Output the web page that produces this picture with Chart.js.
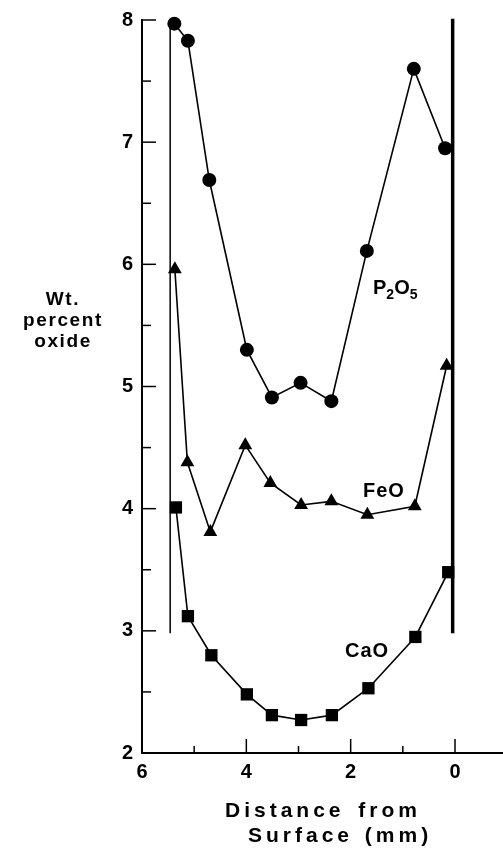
<!DOCTYPE html>
<html>
<head>
<meta charset="utf-8">
<script src="https://cdn.jsdelivr.net/npm/chart.js@4"></script>
<style>
  body { margin: 0; background: #fff; overflow: hidden; }
  #wrap { position: relative; width: 503px; height: 849px; }
  .lbl {
    position: absolute;
    font-family: "Liberation Sans", Arial, sans-serif;
    font-weight: bold;
    color: #000;
    white-space: nowrap;
  }
  .lbl sub { font-size: 70%; vertical-align: -0.35em; }
</style>
</head>
<body>
<div id="wrap">
  <canvas id="chart"></canvas>
  <div class="lbl" style="left:0;width:126px;top:288px;font-size:19px;line-height:21px;text-align:center;letter-spacing:1.6px">Wt.<br>percent<br>oxide</div>
  <div class="lbl" style="left:225px;top:799px;font-size:21px;line-height:21px;letter-spacing:4px;word-spacing:4px">Distance from</div>
  <div class="lbl" style="left:248px;top:824px;font-size:21px;line-height:21px;letter-spacing:4px;word-spacing:2px">Surface (mm)</div>
  <div class="lbl" style="left:373px;top:277px;font-size:20px;line-height:20px">P<sub>2</sub>O<sub>5</sub></div>
  <div class="lbl" style="left:363px;top:480px;font-size:20px;line-height:20px;letter-spacing:1px">FeO</div>
  <div class="lbl" style="left:345px;top:640px;font-size:20px;line-height:20px;letter-spacing:1px">CaO</div>
</div>
<script>
// distance from surface (mm) and wt. percent oxide
const p2o5X = [5.38, 5.12, 4.71, 3.99, 3.51, 2.96, 2.37, 1.69, 0.79, 0.19];
const p2o5Y = [7.97, 7.83, 6.69, 5.30, 4.91, 5.03, 4.88, 6.11, 7.60, 6.95];
const feoX = [5.37, 5.13, 4.69, 4.02, 3.54, 2.95, 2.37, 1.68, 0.77, 0.16];
const feoY = [5.96, 4.38, 3.81, 4.52, 4.21, 4.03, 4.06, 3.95, 4.02, 5.17];
const caoX = [5.35, 5.12, 4.67, 3.99, 3.51, 2.95, 2.36, 1.66, 0.76, 0.13];
const caoY = [4.01, 3.12, 2.80, 2.48, 2.31, 2.27, 2.31, 2.53, 2.95, 3.48];

// sample edges (vertical lines)
const innerEdgeX = [5.46, 5.46];
const innerEdgeY = [2.98, 8.0];
const surfaceX = [0.045, 0.045];
const surfaceY = [2.98, 8.01];

const xTicks = [6, 4, 2, 0];
const yTicks = [2, 3, 4, 5, 6, 7, 8];

function pts(xs, ys) {
  return xs.map((x, i) => ({ x: x, y: ys[i] }));
}

function series(xs, ys, style, radius) {
  return {
    data: pts(xs, ys),
    borderColor: '#000',
    backgroundColor: '#000',
    borderWidth: 1.6,
    pointStyle: style,
    pointRadius: radius,
    pointBorderWidth: 0,
    tension: 0,
    clip: false,
  };
}

function edge(xs, ys, width) {
  return {
    data: pts(xs, ys),
    borderColor: '#000',
    borderWidth: width,
    pointRadius: 0,
    clip: false,
  };
}

// ticks point into the plot, like the printed figure
const innerTicks = {
  id: 'innerTicks',
  afterDraw(chart) {
    const ctx = chart.ctx;
    const xs = chart.scales.x;
    const ys = chart.scales.y;
    const area = chart.chartArea;
    ctx.save();
    ctx.strokeStyle = '#000';
    ctx.lineWidth = 1.5;
    for (let v = 2; v <= 8; v += 0.5) {
      const py = ys.getPixelForValue(v);
      const len = Number.isInteger(v) ? 14 : 9;
      ctx.beginPath();
      ctx.moveTo(area.left, py);
      ctx.lineTo(area.left + len, py);
      ctx.stroke();
    }
    for (let v = 0; v <= 6; v += 1) {
      const px = xs.getPixelForValue(v);
      const len = v % 2 === 0 ? 14 : 7;
      ctx.beginPath();
      ctx.moveTo(px, area.bottom);
      ctx.lineTo(px, area.bottom - len);
      ctx.stroke();
    }
    ctx.restore();
  }
};

const tickFont = { family: '"Liberation Sans", Arial, sans-serif', size: 20, weight: 'bold' };

new Chart(document.getElementById('chart'), {
  type: 'line',
  data: {
    datasets: [
      series(p2o5X, p2o5Y, 'circle', 7),
      series(feoX, feoY, 'triangle', 8),
      series(caoX, caoY, 'rect', 8.7),
      edge(innerEdgeX, innerEdgeY, 1.5),
      edge(surfaceX, surfaceY, 3.5),
    ]
  },
  options: {
    responsive: true,
    maintainAspectRatio: false,
    animation: false,
    layout: { autoPadding: false, padding: { top: 20, right: 0, left: 0, bottom: 0 } },
    plugins: {
      legend: { display: false },
      tooltip: { enabled: false },
    },
    scales: {
      x: {
        type: 'linear',
        reverse: true,
        min: -0.92,
        max: 6,
        afterBuildTicks(scale) {
          scale.ticks = xTicks.map(v => ({ value: v }));
        },
        afterFit(scale) {
          scale.height = 96;
          scale.paddingLeft = 0;
          scale.paddingRight = 0;
        },
        grid: { display: true, drawOnChartArea: false, drawTicks: false },
        border: { display: true, color: '#000', width: 2 },
        ticks: { color: '#000', font: tickFont, padding: 7, maxRotation: 0 },
      },
      y: {
        type: 'linear',
        min: 2,
        max: 8,
        afterBuildTicks(scale) {
          scale.ticks = yTicks.map(v => ({ value: v }));
        },
        afterFit(scale) {
          scale.width = 142;
          scale.paddingTop = 0;
          scale.paddingBottom = 0;
        },
        grid: { display: true, drawOnChartArea: false, drawTicks: false },
        border: { display: true, color: '#000', width: 2 },
        ticks: { color: '#000', font: tickFont, padding: 9 },
      },
    },
  },
  plugins: [innerTicks],
});
</script>
</body>
</html>
